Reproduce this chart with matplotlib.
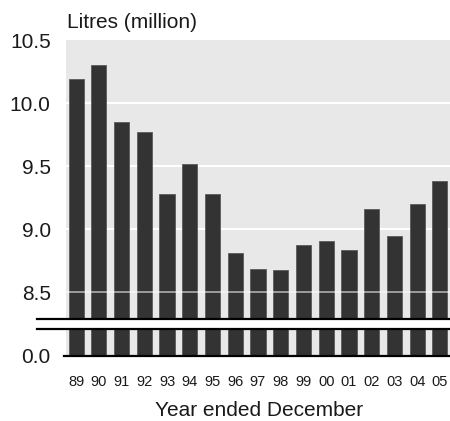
import matplotlib

matplotlib.use("Agg")
import matplotlib.pyplot as plt
from matplotlib.lines import Line2D
import numpy as np

BG = "#e8e8e8"
BAR = "#333333"
TXT = "#1a1a1a"

years = ["89", "90", "91", "92", "93", "94", "95", "96", "97", "98",
         "99", "00", "01", "02", "03", "04", "05"]
litres = [10.19, 10.30, 9.85, 9.77, 9.28, 9.52, 9.28, 8.81, 8.69, 8.68,
          8.88, 8.91, 8.84, 9.16, 8.95, 9.20, 9.38]
top_ticks = [8.5, 9.0, 9.5, 10.0, 10.5]

plt.rcParams["font.family"] = ["Liberation Sans", "DejaVu Sans"]

W, H = 450, 421
fig = plt.figure(figsize=(W / 100, H / 100), dpi=100, facecolor="white")

left = 66 / W
ax_top = fig.add_axes([left, 1 - 319 / H, 1 - left, (319 - 40) / H], facecolor=BG)
ax_bot = fig.add_axes([left, 1 - 355.5 / H, 1 - left, (355.5 - 329) / H], facecolor=BG)

x = np.arange(len(years))
for ax in (ax_top, ax_bot):
    ax.bar(x, litres, width=0.66, color=BAR, edgecolor="#5a5a5a", lw=0.6, zorder=2)
    ax.set_xlim(-0.44, len(years) - 0.56)
    for s in ax.spines.values():
        s.set_visible(False)
    ax.tick_params(length=0, labelsize=15, labelcolor=TXT, pad=11)

ax_top.set_ylim(8.29, 10.5)
ax_top.set_yticks(top_ticks)
ax_top.set_yticklabels([f"{t:.1f}" for t in top_ticks])
ax_top.set_xticks([])
for t in top_ticks[1:-1]:
    ax_top.axhline(t, color="white", lw=1.5, zorder=1)
ax_top.axhline(8.5, color="white", lw=1.2, alpha=0.6, zorder=3)

ax_bot.set_ylim(0, 0.21)
ax_bot.set_yticks([0.0])
ax_bot.set_yticklabels(["0.0"])
ax_bot.set_xticks(x)
ax_bot.set_xticklabels(years, fontsize=10.5)
ax_bot.tick_params(axis="x", pad=14)

# break lines and baseline
for yy, x0 in ((319, 37), (329, 37), (355.5, 64)):
    fig.add_artist(Line2D([x0 / W, 1], [1 - yy / H, 1 - yy / H],
                          color="black", lw=1.6, transform=fig.transFigure))

fig.text(67 / W, 1 - 22 / H, "Litres (million)", fontsize=15, color=TXT,
         ha="left", va="center")
fig.text(259 / W, 1 - 410 / H, "Year ended December", fontsize=15, color=TXT,
         ha="center", va="center")

fig.savefig("out.png", dpi=100, facecolor="white")
